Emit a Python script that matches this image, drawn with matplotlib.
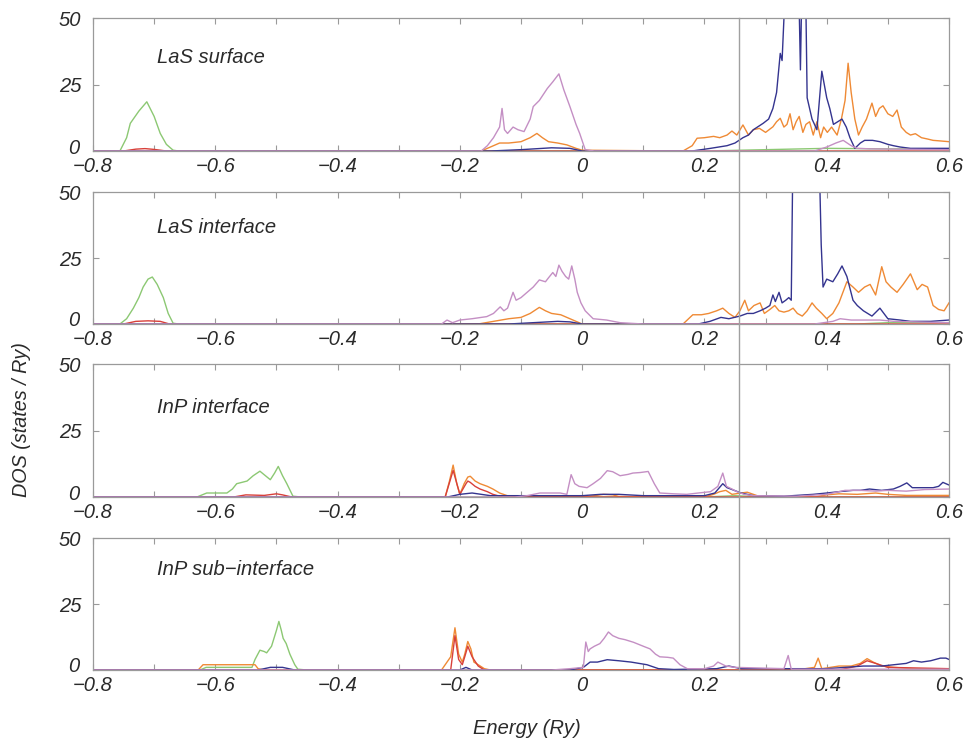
import matplotlib
matplotlib.use("Agg")
import matplotlib.pyplot as plt
from matplotlib.lines import Line2D
import matplotlib.transforms as mtransforms

plt.rcParams['font.family'] = ['Liberation Sans', 'DejaVu Sans']
plt.rcParams['font.style'] = 'italic'

# ---------------- data ----------------
panel_titles = ["LaS surface", "LaS interface", "InP interface", "InP sub\u2212interface"]
fermi_energy = 0.257
x_ticks = [-0.8, -0.7, -0.6, -0.5, -0.4, -0.3, -0.2, -0.1, 0.0, 0.1, 0.2, 0.3, 0.4, 0.5, 0.6]
x_labels = ["\u22120.8", "", "\u22120.6", "", "\u22120.4", "", "\u22120.2", "", "0", "", "0.2", "", "0.4", "", "0.6"]
y_ticks = [0, 25, 50]

# Panel 1: LaS surface
p1_green_x = [-0.8, -0.756, -0.745, -0.739, -0.725, -0.712, -0.70, -0.690, -0.680, -0.669, -0.66, 0.2, 0.3, 0.4, 0.5, 0.6]
p1_green_y = [0, 0, 5, 10.4, 15, 18.5, 13, 6.6, 2.5, 0.3, 0, 0, 0.5, 1, 0.8, 0.8]
p1_red_x = [-0.8, -0.75, -0.73, -0.715, -0.70, -0.68, 0.6]
p1_red_y = [0, 0, 0.7, 0.9, 0.6, 0, 0]
p1_mauve_x = [-0.8, -0.165, -0.155, -0.145, -0.135, -0.131, -0.127, -0.122, -0.113, -0.105, -0.095, -0.085, -0.080, -0.070, -0.057, -0.048, -0.038, -0.030, -0.020, -0.010, -0.004, 0.005, 0.02, 0.38, 0.40, 0.415, 0.427, 0.44, 0.45, 0.47, 0.6]
p1_mauve_y = [0, 0, 2, 5, 9, 16, 8, 6.6, 9, 8, 7.3, 12, 16.7, 19, 23.5, 26, 29, 23, 16.7, 10, 6.6, 0.5, 0, 0, 1.5, 3, 4, 2, 1, 0.8, 0.5]
p1_orange_x = [-0.8, -0.165, -0.15, -0.135, -0.12, -0.10, -0.085, -0.074, -0.065, -0.055, -0.04, -0.025, -0.01, 0.0, 0.165, 0.18, 0.188, 0.20, 0.215, 0.225, 0.237, 0.245, 0.253, 0.263, 0.272, 0.28, 0.29, 0.30, 0.312, 0.318, 0.324, 0.330, 0.335, 0.340, 0.345, 0.350, 0.355, 0.361, 0.366, 0.372, 0.378, 0.384, 0.390, 0.395, 0.401, 0.408, 0.417, 0.424, 0.430, 0.435, 0.440, 0.446, 0.452, 0.458, 0.465, 0.474, 0.480, 0.486, 0.492, 0.500, 0.508, 0.515, 0.522, 0.530, 0.537, 0.545, 0.555, 0.565, 0.574, 0.585, 0.6]
p1_orange_y = [0, 0, 1.5, 3, 3, 3.5, 5, 6.6, 5, 3.5, 3, 2.3, 1, 0.3, 0, 2, 4.8, 5, 5.5, 5, 6, 7.5, 6, 9.8, 6, 8, 8.5, 7, 9.1, 11, 12.3, 9, 10, 14, 8, 11, 13, 7, 10, 11, 6, 11, 5, 9, 7, 9, 6, 12, 19, 33, 22, 12, 6, 9, 12, 18, 13, 16, 17, 14, 13, 15.4, 9, 7, 6, 6.5, 5, 4.5, 4, 3.8, 3.5]
p1_blue_x = [-0.8, -0.15, -0.10, -0.05, -0.02, 0.0, 0.18, 0.21, 0.237, 0.25, 0.263, 0.272, 0.28, 0.296, 0.305, 0.312, 0.318, 0.324, 0.327, 0.332, 0.340, 0.348, 0.354, 0.357, 0.360, 0.365, 0.368, 0.376, 0.384, 0.392, 0.40, 0.405, 0.411, 0.418, 0.425, 0.432, 0.438, 0.446, 0.455, 0.462, 0.475, 0.487, 0.50, 0.509, 0.52, 0.537, 0.56, 0.6]
p1_blue_y = [0, 0, 0.5, 1.2, 1, 0, 0, 1, 2, 3, 5, 6, 8, 10.4, 12, 16, 22, 36.7, 34, 60, 60, 70, 65, 30.5, 70, 70, 20, 12, 8, 30, 20, 16, 10, 11, 12, 9, 5, 1, 3, 4, 4, 3.5, 2.5, 2, 1.5, 1, 1, 1]

# Panel 2: LaS interface
p2_green_x = [-0.8, -0.756, -0.745, -0.734, -0.725, -0.718, -0.710, -0.703, -0.695, -0.685, -0.677, -0.669, -0.66, 0.45, 0.5, 0.6]
p2_green_y = [0, 0, 2, 6, 10, 14, 17, 17.8, 15, 10, 4, 0.3, 0, 0, 0.5, 0.5]
p2_red_x = [-0.8, -0.75, -0.73, -0.71, -0.69, -0.675, 0.6]
p2_red_y = [0, 0, 1, 1.2, 1, 0, 0]
p2_mauve_x = [-0.8, -0.23, -0.221, -0.212, -0.200, -0.18, -0.156, -0.145, -0.134, -0.128, -0.122, -0.113, -0.108, -0.100, -0.090, -0.080, -0.070, -0.060, -0.055, -0.048, -0.043, -0.038, -0.033, -0.027, -0.022, -0.017, -0.012, -0.008, -0.002, 0.005, 0.018, 0.04, 0.062, 0.1, 0.38, 0.41, 0.422, 0.44, 0.46, 0.487, 0.51, 0.6]
p2_mauve_y = [0, 0, 1.5, 0.5, 1.5, 2, 2.8, 4, 6.5, 5, 6, 12, 9, 10, 12, 14, 16.7, 16, 17.5, 19.5, 18, 22.3, 20, 18, 17, 22, 17, 12, 8, 5, 2, 1.5, 0.5, 0, 0, 1, 2, 1.5, 1.5, 1.5, 1, 0.5]
p2_orange_x = [-0.8, -0.17, -0.145, -0.12, -0.10, -0.085, -0.07, -0.06, -0.05, -0.035, -0.02, -0.01, 0.0, 0.165, 0.181, 0.195, 0.207, 0.22, 0.23, 0.24, 0.25, 0.258, 0.266, 0.272, 0.281, 0.291, 0.298, 0.307, 0.315, 0.322, 0.330, 0.338, 0.345, 0.352, 0.360, 0.368, 0.376, 0.383, 0.392, 0.40, 0.410, 0.420, 0.433, 0.443, 0.452, 0.462, 0.471, 0.480, 0.490, 0.497, 0.505, 0.515, 0.525, 0.537, 0.548, 0.556, 0.565, 0.574, 0.583, 0.592, 0.6]
p2_orange_y = [0, 0, 1, 2, 2.5, 4, 6.3, 5, 4, 3.5, 2, 1, 0, 0, 3.5, 3.5, 4, 5, 6, 4, 2.5, 5, 9, 5, 7, 8, 4, 5.5, 7, 5, 4.5, 5, 6, 4, 3, 5, 8, 6, 4, 2, 4, 8, 16, 14, 12, 14, 15, 11, 21.7, 16, 14, 12, 15, 19, 13, 15, 14, 7, 5.5, 5, 8]
p2_blue_x = [-0.8, -0.12, -0.08, -0.04, -0.02, 0.0, 0.19, 0.209, 0.227, 0.24, 0.258, 0.27, 0.28, 0.291, 0.30, 0.307, 0.312, 0.316, 0.322, 0.327, 0.333, 0.338, 0.342, 0.345, 0.350, 0.358, 0.366, 0.374, 0.382, 0.388, 0.391, 0.394, 0.40, 0.41, 0.418, 0.425, 0.433, 0.443, 0.45, 0.46, 0.474, 0.487, 0.50, 0.52, 0.537, 0.57, 0.6]
p2_blue_y = [0, 0, 0.5, 1, 0.8, 0, 0, 1, 2.5, 2, 3, 4, 4, 5, 6, 7, 11, 8.5, 12, 8, 9, 10, 9, 70, 75, 80, 75, 80, 70, 60, 30, 14, 17, 16, 19, 22, 18, 9, 7, 5, 3, 6, 2, 1.5, 1, 1, 1.5]

# Panel 3: InP interface
p3_green_x = [-0.8, -0.630, -0.614, -0.600, -0.581, -0.572, -0.565, -0.548, -0.538, -0.527, -0.518, -0.510, -0.503, -0.497, -0.490, -0.483, -0.473, -0.46, 0.2, 0.25, 0.3, 0.6]
p3_green_y = [0, 0, 1.5, 1.5, 1.5, 3, 5, 6, 8, 9.7, 8, 6.5, 9, 11.5, 8, 5, 0.3, 0, 0, 0.5, 0, 0]
p3_red_x = [-0.8, -0.57, -0.55, -0.52, -0.50, -0.49, -0.475, -0.23, -0.224, -0.211, -0.200, -0.19, -0.187, -0.183, -0.175, -0.167, -0.155, -0.146, -0.13, 0.6]
p3_red_y = [0, 0, 0.8, 0.6, 1.2, 0.8, 0, 0, 0, 10, 1, 5, 6, 5.5, 4, 3, 2, 1, 0, 0]
p3_orange_x = [-0.8, -0.224, -0.217, -0.211, -0.205, -0.200, -0.193, -0.187, -0.183, -0.175, -0.167, -0.155, -0.146, -0.135, -0.12, 0.0, 0.02, 0.035, 0.05, 0.06, 0.2, 0.215, 0.225, 0.235, 0.245, 0.26, 0.27, 0.28, 0.29, 0.38, 0.40, 0.42, 0.45, 0.48, 0.5, 0.53, 0.6]
p3_orange_y = [0, 0, 6, 12, 5, 1, 5, 7.5, 7.8, 6, 5, 4, 3, 1.5, 0.3, 0, 0.5, 1, 0.8, 0.2, 0, 1, 2, 2.5, 1, 1.5, 1.8, 1, 0.2, 0, 0.8, 1.2, 1, 1.5, 1, 0.6, 0.6]
p3_mauve_x = [-0.8, -0.11, -0.09, -0.069, -0.05, -0.036, -0.025, -0.018, -0.012, -0.005, 0.008, 0.018, 0.030, 0.041, 0.050, 0.062, 0.075, 0.083, 0.095, 0.108, 0.118, 0.127, 0.15, 0.171, 0.19, 0.21, 0.222, 0.23, 0.236, 0.245, 0.253, 0.265, 0.28, 0.35, 0.40, 0.43, 0.455, 0.48, 0.5, 0.53, 0.56, 0.6]
p3_mauve_y = [0, 0, 0.5, 1.5, 1.5, 1.5, 1, 8.4, 5, 4, 3.5, 5, 7, 9.9, 9.5, 8, 8.5, 9, 9.2, 9.6, 5, 1.5, 1.2, 1, 1.5, 2, 4, 9, 4, 3, 2, 1, 0.5, 0.3, 1, 2.5, 2.5, 2.2, 2.5, 2.2, 2.8, 3]
p3_blue_x = [-0.8, -0.22, -0.2, -0.18, -0.15, 0.0, 0.03, 0.06, 0.1, 0.2, 0.217, 0.23, 0.237, 0.243, 0.26, 0.28, 0.33, 0.378, 0.40, 0.42, 0.443, 0.455, 0.47, 0.49, 0.509, 0.52, 0.531, 0.54, 0.558, 0.574, 0.583, 0.59, 0.6]
p3_blue_y = [0, 0, 1, 1.5, 0.5, 0.5, 1, 1, 0.5, 0.5, 1.5, 5, 3.5, 3, 1.5, 0.5, 0.3, 1, 1.5, 2, 2.5, 2.5, 3, 2.5, 3, 4, 5.3, 3.5, 3.5, 3.5, 4, 5.5, 4.5]

# Panel 4: InP sub-interface
p4_green_x = [-0.8, -0.625, -0.615, -0.60, -0.58, -0.56, -0.54, -0.535, -0.527, -0.520, -0.516, -0.508, -0.500, -0.496, -0.492, -0.489, -0.484, -0.478, -0.470, -0.465, -0.45, 0.6]
p4_green_y = [0, 0, 1, 1, 1, 1, 1, 4, 7.5, 7, 6.5, 9, 15, 18.4, 15, 12, 10, 6, 2, 0.3, 0, 0]
p4_orange_x = [-0.8, -0.628, -0.620, -0.60, -0.55, -0.535, -0.53, -0.52, -0.23, -0.215, -0.208, -0.202, -0.196, -0.192, -0.187, -0.182, -0.177, -0.170, -0.160, -0.15, 0.35, 0.380, 0.386, 0.392, 0.42, 0.44, 0.455, 0.466, 0.476, 0.49, 0.51, 0.54, 0.6]
p4_orange_y = [0, 0, 2, 2, 2, 2, 0.5, 0, 0, 5, 16, 6, 3, 6, 10.8, 8, 3, 2, 0.5, 0, 0, 1, 4.5, 0.5, 1.5, 1.5, 2.5, 4.3, 3, 1.5, 1, 0.5, 0.5]
p4_red_x = [-0.8, -0.215, -0.208, -0.202, -0.196, -0.192, -0.187, -0.18, -0.17, -0.16, 0.42, 0.45, 0.466, 0.48, 0.5, 0.6]
p4_red_y = [0, 0, 13, 4, 2, 5, 9, 5, 1.5, 0, 0, 1.5, 3.5, 2.5, 1, 0.5]
p4_mauve_x = [-0.8, -0.05, -0.02, 0.002, 0.006, 0.010, 0.013, 0.020, 0.029, 0.036, 0.043, 0.050, 0.060, 0.070, 0.084, 0.10, 0.111, 0.120, 0.127, 0.140, 0.149, 0.160, 0.172, 0.20, 0.215, 0.222, 0.235, 0.25, 0.33, 0.337, 0.342, 0.6]
p4_mauve_y = [0, 0, 0.5, 1, 10.6, 7, 8, 9, 10, 12, 14.4, 13, 12, 11.5, 10.5, 9, 8, 6, 5, 4.8, 4.5, 2, 0.5, 0.5, 1.5, 3, 1.5, 1, 0.5, 5.5, 0.3, 0.3]
p4_blue_x = [-0.8, -0.53, -0.51, -0.49, -0.47, -0.2, -0.19, -0.18, -0.02, 0.002, 0.013, 0.025, 0.041, 0.06, 0.08, 0.106, 0.125, 0.15, 0.22, 0.24, 0.26, 0.40, 0.43, 0.46, 0.49, 0.51, 0.53, 0.542, 0.555, 0.57, 0.586, 0.595, 0.6]
p4_blue_y = [0, 0, 1, 1, 0, 0, 1, 0, 0, 1, 3, 3, 3.9, 3.5, 3, 2, 0.5, 0.2, 0.5, 1.5, 0.5, 0.5, 1, 1.5, 1.5, 2, 2.5, 3.5, 3, 3.5, 4.5, 4.5, 4]

# ---------------- style ----------------
C_GREEN = "#8cc873"
C_RED = "#d8403a"
C_ORANGE = "#ef8a35"
C_MAUVE = "#c48fc4"
C_BLUE = "#34348f"
C_AXIS = "#9a9a9a"
C_TEXT = "#2a2a2a"

panels = [
    [(p1_green_x, p1_green_y, C_GREEN), (p1_red_x, p1_red_y, C_RED), (p1_orange_x, p1_orange_y, C_ORANGE),
     (p1_blue_x, p1_blue_y, C_BLUE), (p1_mauve_x, p1_mauve_y, C_MAUVE)],
    [(p2_green_x, p2_green_y, C_GREEN), (p2_red_x, p2_red_y, C_RED), (p2_orange_x, p2_orange_y, C_ORANGE),
     (p2_blue_x, p2_blue_y, C_BLUE), (p2_mauve_x, p2_mauve_y, C_MAUVE)],
    [(p3_green_x, p3_green_y, C_GREEN), (p3_orange_x, p3_orange_y, C_ORANGE), (p3_red_x, p3_red_y, C_RED),
     (p3_blue_x, p3_blue_y, C_BLUE), (p3_mauve_x, p3_mauve_y, C_MAUVE)],
    [(p4_green_x, p4_green_y, C_GREEN), (p4_orange_x, p4_orange_y, C_ORANGE), (p4_red_x, p4_red_y, C_RED),
     (p4_blue_x, p4_blue_y, C_BLUE), (p4_mauve_x, p4_mauve_y, C_MAUVE)],
]
title_y = [35, 36.5, 33.5, 38]

W, H = 967, 741
fig = plt.figure(figsize=(W / 100, H / 100), dpi=100)
left = 93 / W
width = (949 - 93) / W
rows = [(18, 151), (192, 324), (364, 497), (538, 670)]
axes = []
for i, (top, bot) in enumerate(rows):
    ax = fig.add_axes([left, 1 - bot / H, width, (bot - top) / H])
    axes.append(ax)
    for xs, ys, c in panels[i]:
        ax.plot(xs, ys, color=c, lw=1.0)
    ax.set_xlim(-0.8, 0.6)
    ax.set_ylim(0, 50)
    ax.set_xticks(x_ticks)
    ax.set_xticklabels(x_labels)
    ax.set_yticks(y_ticks)
    ax.set_yticklabels([str(v) for v in y_ticks])
    ax.tick_params(axis='x', direction='in', length=4, width=0.8, color=C_AXIS, top=True,
                   pad=4.5, labelsize=14.5, labelcolor=C_TEXT)
    ax.tick_params(axis='y', direction='in', length=4, width=0.8, color=C_AXIS, right=True,
                   pad=8.5, labelsize=14.5, labelcolor=C_TEXT)
    for lab in ax.get_xticklabels() + ax.get_yticklabels():
        lab.set_fontstyle('italic')
    for sp in ax.spines.values():
        sp.set_color(C_AXIS)
        sp.set_linewidth(0.9)
    ax.text(-0.695, title_y[i], panel_titles[i], fontsize=14.5, style='italic',
            color=C_TEXT, va='center', ha='left')
    # lift the "0" y-label a little so it clears the "-0.8" x-label
    zero_tick = ax.yaxis.get_major_ticks()[0]
    zero_tick.label1.set_transform(zero_tick.label1.get_transform()
                                   + mtransforms.ScaledTranslation(-2 / 100, 5 / 100, fig.dpi_scale_trans))

# Fermi level line across all panels
trans = mtransforms.blended_transform_factory(axes[0].transData, fig.transFigure)
fig.add_artist(Line2D([fermi_energy, fermi_energy], [1 - 670 / H, 1 - 18 / H],
                      transform=trans, color="#a0a0a0", lw=1.0))

fig.text(22 / W, 1 - 420 / H, "DOS (states / Ry)", rotation=90, fontsize=14.2,
         style='italic', color=C_TEXT, ha='center', va='center')
fig.text(527 / W, 1 - 729 / H, "Energy (Ry)", fontsize=14.5, style='italic',
         color=C_TEXT, ha='center', va='center')

fig.savefig("out.png", dpi=100)
